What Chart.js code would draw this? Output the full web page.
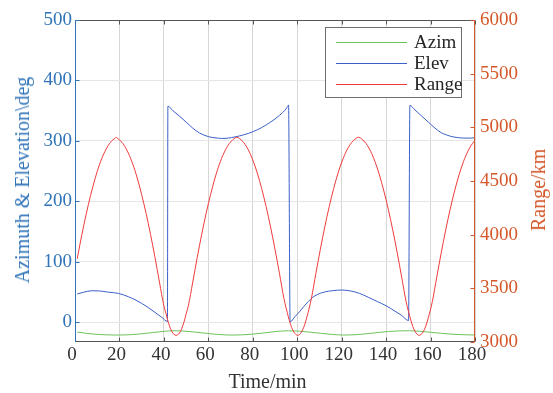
<!DOCTYPE html>
<html><head><meta charset="utf-8">
<script src="https://cdn.jsdelivr.net/npm/chart.js@4.4.0/dist/chart.umd.min.js"></script>
<style>
html,body{margin:0;padding:0;background:#fff;}
#wrap{position:relative;width:553px;height:393px;overflow:hidden;}
canvas{position:absolute;left:0;top:0;}
.t{position:absolute;font-family:'Liberation Serif',serif;font-size:20px;line-height:22px;white-space:nowrap;transform:translate(-50%,-50%) rotate(-90deg);}
#legend{position:absolute;left:325px;top:27px;width:137px;height:71px;border:1px solid #6e6e6e;background:#fff;box-sizing:border-box;}
.lg{position:absolute;left:10px;width:71px;height:0;border-top:1px solid;}
.lt{position:absolute;left:88px;font-family:'Liberation Serif',serif;font-size:19px;line-height:21px;color:#262626;white-space:nowrap;}
</style></head>
<body><div id="wrap">
<canvas id="c" width="553" height="393"></canvas>
<div class="t" style="left:22.4px;top:180px;color:#2f73b8;">Azimuth &amp; Elevation\deg</div>
<div class="t" style="left:537.6px;top:190px;color:#d4582a;">Range/km</div>
<div class="t" style="left:267.5px;top:381px;color:#333;transform:translate(-50%,-50%);">Time/min</div>
<div id="legend">
  <div class="lg" style="top:14px;border-color:#6cc35a;"></div><div class="lt" style="top:3px;">Azim</div>
  <div class="lg" style="top:35px;border-color:#3a5fc8;"></div><div class="lt" style="top:24px;">Elev</div>
  <div class="lg" style="top:56px;border-color:#f03a3a;"></div><div class="lt" style="top:45px;">Range</div>
</div>
</div>
<script>
// ---- data ----
const seriesNames = ['Azim', 'Elev', 'Range'];
const xTicks = [0,20,40,60,80,100,120,140,160,180];
const leftTicks = [0,100,200,300,400,500];
const rightTicks = [3000,3500,4000,4500,5000,5500,6000];

const azimTime = [1,5,10,15,20,25,30,35,40,44,48,53,58,63,68,71,75,80,85,90,96,101,106,111,116,121,126,131,136,141,146,150.5,155,160,165,170,175,180];
const azimVals = [-16.5,-18.6,-20.4,-21.3,-21.5,-20.9,-19.4,-17.4,-15.4,-14.4,-14.7,-16.2,-18.2,-20.1,-21.3,-21.5,-21.2,-20.0,-18.0,-15.8,-14.4,-15.0,-16.8,-18.8,-20.6,-21.5,-21.0,-19.4,-17.4,-15.6,-14.6,-14.4,-15.2,-16.9,-18.7,-20.2,-21.0,-21.4];

const elevTime = [1,4,7.5,11,15,19.5,24,27,30,33,36,39,41.6,
  41.8,44,47,50,53,56,60,63,66,69,72,76,80,84,88,92,95,96.1,
  96.8,99,101,103,105,107,109,112,116,120,124,128,132,136,140,144,147,150.1,
  150.7,153,156,159,162,165,167.3,169,172,175,178,180];
const elevVals = [46.5,49.5,51.8,51.5,49.5,47.5,42,37,31,24,16,8,1,
  357.5,350,341,331,321,313,307,305,304,304.5,306.5,310,315,322,331,342,353,359,
  0.5,9,17,26,34,41,45.5,49.5,52,53,51.5,47.5,41,34,27,18,11,2.5,
  358.5,351,341,331,321,313,309.6,307.5,305.5,304.5,304.5,305];

const rangeTime = [1,2,3,4,5,6,7,8,9,10,11,12,13,14,15,16,17,18,18.5,
  19,20,21,22,23,24,25,26,27,28,29,30,31,32,33,34,35,36,37,38,39,40,41,42,43,44,45,45.5,
  46,47,48,49,50,51,52,53,54,55,56,57,58,59,60,61,62,63,64,65,66,67,68,69,70,71,72,72.8,
  74,76,78,80,82,84,86,88,90,92,94,96,97,98,99,100.2,
  101.4,102.4,103.4,104.4,106.4,108.4,110.4,112.4,114.4,116.4,118.4,120.4,122.4,124.4,126.4,127.5,
  129,131,133,135,137,139,141,143,145,147,149,151,152,153,154,154.9,
  155.8,156.8,157.8,158.8,160.8,162.8,164.8,166.8,168.8,170.8,172.8,174.8,176.8,178.8,180];
const rangeVals = [3775,3885,3990,4092,4188,4279,4365,4445,4520,4589,4651,4707,4755,4797,4832,4861,4882,4898,4908,
  4900,4884,4863,4836,4801,4760,4712,4657,4596,4528,4453,4373,4288,4198,4102,4001,3896,3787,3674,3559,3443,3337,3260,3183,3123,3084,3065,3062,
  3065,3084,3123,3183,3260,3337,3443,3559,3674,3787,3896,4001,4102,4198,4288,4373,4453,4528,4596,4657,4712,4760,4801,4836,4863,4884,4900,4908,
  4896,4856,4790,4696,4576,4430,4262,4072,3863,3640,3408,3235,3164,3112,3078,3062,
  3078,3112,3164,3235,3408,3640,3863,4072,4262,4430,4576,4696,4790,4856,4896,4908,
  4892,4848,4778,4680,4556,4406,4235,4042,3831,3605,3376,3213,3145,3099,3071,3062,
  3071,3099,3145,3213,3376,3605,3831,4042,4235,4406,4556,4680,4778,4848,4877];

const pts = (xs, ys) => xs.map((x, i) => ({x: x, y: ys[i]}));
const FAMILY = "'Liberation Serif', serif";
const FONT = {family: FAMILY, size: 19};
const BLUE = '#2f73b8', ORANGE = '#d4582a';
const plain = v => String(v);
Chart.defaults.font.family = FAMILY;

const frame = {
  id: 'frame',
  afterDatasetsDraw(chart) {
    const {ctx, chartArea: a, scales} = chart;
    ctx.save();
    ctx.lineWidth = 1;
    const L = a.left + 0.5, R = a.right - 0.5, T = a.top + 0.5, B = a.bottom - 0.5;
    ctx.strokeStyle = '#555';
    ctx.beginPath();
    xTicks.forEach(v => {
      const px = Math.round(scales.x.getPixelForValue(v)) + 0.5;
      ctx.moveTo(px, B); ctx.lineTo(px, B - 4);
      ctx.moveTo(px, T); ctx.lineTo(px, T + 4);
    });
    ctx.moveTo(L, T); ctx.lineTo(R, T);
    ctx.moveTo(L, B); ctx.lineTo(R, B);
    ctx.stroke();
    ctx.strokeStyle = BLUE;
    ctx.beginPath();
    ctx.moveTo(L, T); ctx.lineTo(L, B + 0.5);
    leftTicks.forEach(v => {
      const py = Math.round(scales.y.getPixelForValue(v)) + 0.5;
      ctx.moveTo(L, py); ctx.lineTo(L + 4, py);
    });
    ctx.stroke();
    ctx.strokeStyle = ORANGE;
    ctx.beginPath();
    ctx.moveTo(R, T); ctx.lineTo(R, B + 0.5);
    rightTicks.forEach(v => {
      const py = Math.round(scales.y2.getPixelForValue(v)) + 0.5;
      ctx.moveTo(R, py); ctx.lineTo(R - 4, py);
    });
    ctx.stroke();
    ctx.restore();
  }
};

function draw() {
  new Chart(document.getElementById('c'), {
    type: 'line',
    data: {
      datasets: [
        {label: seriesNames[0], data: pts(azimTime, azimVals), yAxisID: 'y', borderColor: '#6cc35a', borderWidth: 1, pointRadius: 0, cubicInterpolationMode: 'monotone', order: 3},
        {label: seriesNames[1], data: pts(elevTime, elevVals), yAxisID: 'y', borderColor: '#3a5fc8', borderWidth: 1, pointRadius: 0, cubicInterpolationMode: 'monotone', order: 2},
        {label: seriesNames[2], data: pts(rangeTime, rangeVals), yAxisID: 'y2', borderColor: '#f03a3a', borderWidth: 1, pointRadius: 0, cubicInterpolationMode: 'monotone', order: 1}
      ]
    },
    options: {
      responsive: false, animation: false, devicePixelRatio: 1,
      layout: {padding: {top: 20, left: 0, right: 0, bottom: 0}},
      plugins: {legend: {display: false}, tooltip: {enabled: false}},
      scales: {
        x: {
          type: 'linear', min: 0, max: 180,
          afterBuildTicks: s => { s.ticks = xTicks.map(v => ({value: v})); },
          afterFit: s => { s.height = 51; },
          grid: {color: '#d6d6d6', drawTicks: false, lineWidth: 1},
          border: {display: false},
          ticks: {color: '#333', font: FONT, padding: 2, labelOffset: -3, maxRotation: 0, autoSkip: false, callback: plain}
        },
        y: {
          position: 'left', min: -33, max: 500,
          afterBuildTicks: s => { s.ticks = leftTicks.map(v => ({value: v})); },
          afterFit: s => { s.width = 75; },
          grid: {color: '#e6e6e6', drawTicks: false},
          border: {display: false},
          ticks: {color: BLUE, font: FONT, padding: 3, callback: plain}
        },
        y2: {
          position: 'right', min: 3000, max: 6000,
          afterBuildTicks: s => { s.ticks = rightTicks.map(v => ({value: v})); },
          afterFit: s => { s.width = 78; },
          grid: {display: false, drawTicks: false},
          border: {display: false},
          ticks: {color: ORANGE, font: FONT, padding: 5, callback: plain}
        }
      }
    },
    plugins: [frame]
  });
}

if (document.fonts && document.fonts.load) {
  document.fonts.load("19px 'Liberation Serif'").then(draw, draw);
} else {
  draw();
}
</script>
</body></html>
